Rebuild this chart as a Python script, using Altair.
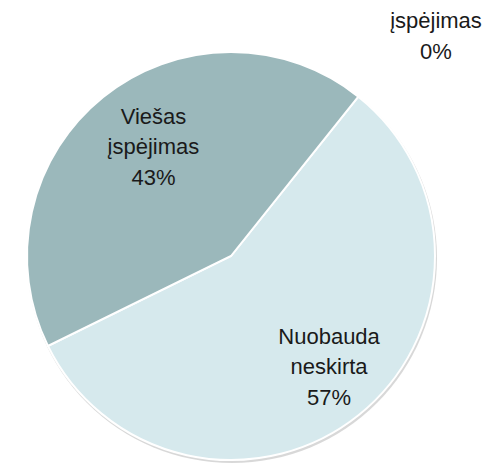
import math
import altair as alt
import pandas as pd

categories = ["Įspėjimas", "Nuobauda neskirta", "Viešas įspėjimas"]
values = [0, 57, 43]
label_lines = [["įspėjimas", "0%"], ["Nuobauda", "neskirta", "57%"], ["Viešas", "įspėjimas", "43%"]]
colors = ["#b5cfd2", "#d6e9ed", "#9bb8bb"]

df = pd.DataFrame({
    "cat": categories,
    "val": values,
    "idx": list(range(len(categories))),
    "label": label_lines,
})

start = 0.674
CX, CY, R = 231, 256, 204

theta_scale = alt.Scale(range=[start, start + 2 * math.pi])
color = alt.Color("cat:N", scale=alt.Scale(domain=categories, range=colors), legend=None)
order = alt.Order("idx:Q")

base = alt.Chart(df)

shadow = alt.Chart(pd.DataFrame({"a": [0]})).mark_arc(
    theta=0, theta2=2 * math.pi, radius=R + 1, color="#c8c8c8", opacity=0.7
).encode(x=alt.value(CX + 1), y=alt.value(CY + 2))

pie = base.mark_arc(radius=R, stroke="white", strokeWidth=2).encode(
    theta=alt.Theta("val:Q", stack=True, scale=theta_scale),
    color=color, order=order,
    x=alt.value(CX), y=alt.value(CY),
)

labels_base = base.transform_window(
    cum="sum(val)", sort=[alt.SortField("idx", order="ascending")],
    frame=[None, 0],
).transform_calculate(mid="datum.cum - datum.val / 2")

def label_layer(cat, rad, dx=0, dy=0):
    return labels_base.transform_filter(alt.datum.cat == cat).mark_text(
        radius=rad, font="Liberation Sans", fontSize=22, lineHeight=30.5,
        color="#1a1a1a", align="center", baseline="middle", dx=dx, dy=dy,
    ).encode(
        theta=alt.Theta("mid:Q", scale=theta_scale), text="label",
        x=alt.value(CX), y=alt.value(CY),
    )

chart = alt.layer(
    shadow, pie,
    label_layer("Viešas įspėjimas", 135, dx=7, dy=-34),
    label_layer("Nuobauda neskirta", 147, dx=6, dy=-34),
    label_layer("Įspėjimas", 290, dx=24, dy=-8),
).properties(
    width=496, height=467, padding=0,
    autosize=alt.AutoSizeParams(type="none"),
).configure_view(stroke=None)

chart.save("out.html", embed_options={"renderer": "svg", "actions": False})
